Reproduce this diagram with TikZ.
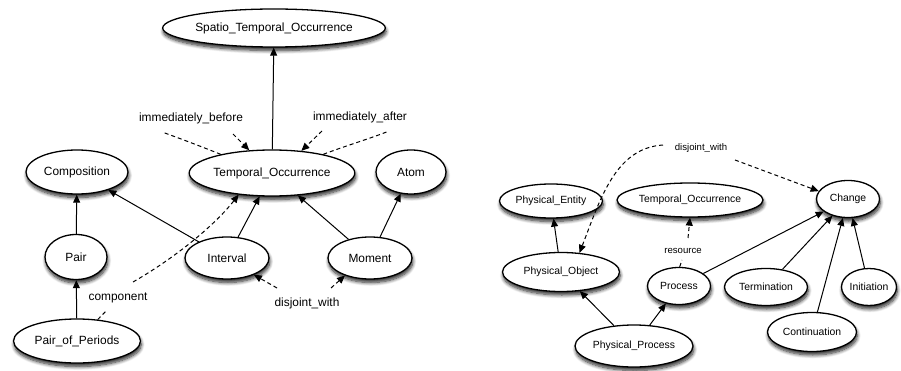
\documentclass[tikz,border=0pt]{standalone}
\usepackage{fontspec}
\setmainfont{Liberation Sans}
\usetikzlibrary{shapes.geometric,arrows.meta,shadows.blur}

\begin{document}
\begin{tikzpicture}[x=1pt,y=-1pt,
  cls/.style={ellipse, draw, fill=white, line width=1.3pt, inner sep=0pt,
    blur shadow={shadow xshift=0.8pt, shadow yshift=-3.5pt, shadow blur radius=3.5pt, shadow blur steps=8, shadow opacity=85}},
  big/.style={font=\fontsize{11.9}{13}\selectfont},
  small/.style={font=\fontsize{10.4}{12}\selectfont},
  tiny/.style={font=\fontsize{9.6}{11}\selectfont},
  isa/.style={line width=1pt, -{Triangle[length=8pt,width=7pt]}},
  rel/.style={line width=1pt, dash pattern=on 4pt off 3pt},
  relarrow/.style={rel, -{Triangle[length=8pt,width=7pt]}},
  lbl/.style={inner sep=1pt}
]
\useasboundingbox (0,0) rectangle (901,371);

% ---------- temporal occurrence taxonomy ----------
\node[cls, big, minimum width=216pt, minimum height=38pt] (STO) at (274,28) {Spatio\_Temporal\_Occurrence};
\node[cls, big, minimum width=162pt, minimum height=46pt] (TO) at (272,173) {Temporal\_Occurrence};
\node[cls, big, minimum width=102pt, minimum height=44pt] (Comp) at (77,172) {Composition};
\node[cls, big, minimum width=70pt, minimum height=44pt] (Atom) at (411,172) {Atom};
\node[cls, big, minimum width=62pt, minimum height=45pt] (Pair) at (76,257) {Pair};
\node[cls, big, minimum width=84pt, minimum height=42pt] (Interval) at (227,258) {Interval};
\node[cls, big, minimum width=84pt, minimum height=42pt] (Moment) at (370,258) {Moment};
\node[cls, big, minimum width=127pt, minimum height=44pt] (PoP) at (77,341) {Pair\_of\_Periods};

\node[lbl, big] (ib) at (191,118) {immediately\_before};
\node[lbl, big] (ia) at (360,117) {immediately\_after};
\node[lbl, big] (cp) at (118,298) {component};
\node[lbl, big] (dj) at (307,303) {disjoint\_with};

\coordinate (ibL) at (162,132);
\coordinate (ibR) at (233,134);
\coordinate (iaL) at (322,131);
\coordinate (iaR) at (389,131);
\coordinate (cpB) at (107,310);
\coordinate (cpT) at (133,282);
\coordinate (djA) at (277,288);
\coordinate (djB) at (331,288);

\draw[isa] (TO) -- (STO);
\draw[isa] (Interval) -- (Comp);
\draw[isa] (Interval) -- (TO);
\draw[isa] (Moment) -- (TO);
\draw[isa] (Moment) -- (Atom);
\draw[isa] (Pair) -- (Comp);
\draw[isa] (PoP) -- (Pair);

\draw[rel] (TO.160) .. controls (200,146) and (176,137) .. (ibL);
\draw[relarrow] (ibR) -- (TO.135);
\draw[rel] (TO.20) .. controls (345,146) and (372,138) .. (iaR);
\draw[relarrow] (iaL) -- (TO.37);
\draw[rel] (PoP.46) -- (cpB);
\draw[relarrow] (cpT) .. controls (175,258) and (215,225) .. (TO.213);
\draw[relarrow] (djA) -- (Interval.-32);
\draw[relarrow] (djB) -- (Moment.215);

% ---------- physical process taxonomy ----------
\node[cls, small, minimum width=103pt, minimum height=34pt] (PE) at (551,201) {Physical\_Entity};
\node[cls, small, minimum width=146pt, minimum height=34pt] (TO2) at (690,200) {Temporal\_Occurrence};
\node[cls, small, minimum width=63pt, minimum height=37pt] (Change) at (848,199) {Change};
\node[cls, small, minimum width=117pt, minimum height=39pt] (PO) at (561,272) {Physical\_Object};
\node[cls, small, minimum width=63pt, minimum height=37pt] (Process) at (679,286) {Process};
\node[cls, small, minimum width=83pt, minimum height=37pt] (Term) at (766,287) {Termination};
\node[cls, small, minimum width=55pt, minimum height=37pt] (Init) at (869,287) {Initiation};
\node[cls, small, minimum width=89pt, minimum height=39pt] (Cont) at (812,332) {Continuation};
\node[cls, small, minimum width=118pt, minimum height=42pt] (PP) at (634,346) {Physical\_Process};

\node[lbl, tiny] (dj2) at (701,148) {disjoint\_with};
\node[lbl, tiny] (rs) at (683,251) {resource};

\coordinate (dj2L) at (663,145);
\coordinate (dj2R) at (735,160);
\coordinate (rsB) at (682,260);
\coordinate (rsT) at (688,238);

\draw[isa] (PO) -- (PE);
\draw[isa] (PP) -- (PO);
\draw[isa] (PP) -- (Process);
\draw[isa] (Process) -- (Change);
\draw[isa] (Term) -- (Change);
\draw[isa] (Cont) -- (Change);
\draw[isa] (Init) -- (Change);

\draw[rel] (Process.88) -- (rsB);
\draw[relarrow] (rsT) -- (TO2.south);
\draw[relarrow] (dj2L) .. controls (615,148) and (600,200) .. (PO.46);
\draw[relarrow] (dj2R) -- (Change.165);
\end{tikzpicture}
\end{document}
